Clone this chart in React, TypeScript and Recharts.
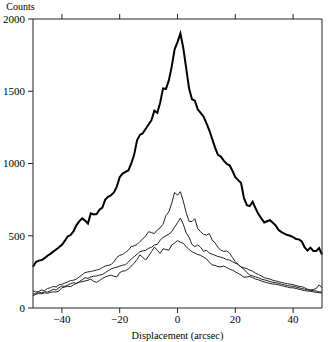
import React from 'react';
import { LineChart, Line, XAxis, YAxis } from 'recharts';

// displacement bins (arcsec)
const displacement = [
  -50, -49, -48, -47, -46, -45, -44, -43, -42, -41, -40, -39, -38, -37, -36, -35, -34,
  -33, -32, -31, -30, -29, -28, -27, -26, -25, -24, -23, -22, -21, -20, -19, -18, -17,
  -16, -15, -14, -13, -12, -11, -10, -9, -8, -7, -6, -5, -4, -3, -2, -1, 0,
  1, 2, 3, 4, 5, 6, 7, 8, 9, 10, 11, 12, 13, 14, 15, 16, 17, 18, 19, 20,
  21, 22, 23, 24, 25, 26, 27, 28, 29, 30, 31, 32, 33, 34, 35, 36, 37, 38, 39, 40,
  41, 42, 43, 44, 45, 46, 47, 48, 49, 50,
];

const totalCounts = [
  286, 318, 328, 332, 345, 362, 375, 390, 405, 420, 437, 465, 495, 505, 530, 572, 600,
  620, 605, 585, 655, 648, 650, 680, 695, 750, 770, 780, 800, 840, 905, 930, 942, 952,
  1000, 1060, 1160, 1198, 1210, 1240, 1270, 1300, 1365, 1350, 1420, 1520, 1515, 1575, 1670, 1790, 1840,
  1900, 1800, 1660, 1520, 1445, 1435, 1375, 1350, 1325, 1280, 1230, 1170, 1110, 1060, 1048, 1020, 998, 988, 950, 905,
  885, 865, 760, 712, 705, 735, 690, 650, 620, 592, 600, 608, 590, 570, 540, 525, 515, 505, 500, 490,
  478, 475, 460, 420, 398, 418, 395, 395, 415, 370,
];

const profileA = [
  120, 110, 115, 125, 120, 135, 140, 150, 145, 160, 165, 172, 180, 190, 192, 200, 215,
  230, 245, 250, 252, 258, 262, 268, 280, 290, 295, 300, 320, 350, 365, 370, 385, 400,
  425, 430, 440, 460, 478, 500, 528, 522, 515, 540, 555, 580, 640, 665, 725, 800, 780,
  805, 740, 660, 600, 598, 618, 550, 528, 510, 505, 515, 470, 450, 420, 400, 392, 395, 380, 350, 320,
  300, 285, 278, 272, 262, 255, 240, 232, 222, 210, 205, 200, 192, 187, 182, 176, 172, 168, 165, 162,
  155, 150, 148, 140, 130, 125, 128, 135, 160, 140,
];

const profileB = [
  95, 100, 110, 105, 112, 110, 118, 130, 125, 140, 152, 150, 158, 168, 175, 170, 182,
  195, 210, 205, 215, 220, 222, 228, 232, 245, 258, 270, 278, 282, 290, 296, 300, 318,
  340, 355, 372, 390, 395, 400, 413, 420, 436, 440, 470, 488, 500, 510, 528, 560, 590,
  622, 580, 520, 490, 440, 425, 436, 420, 392, 400, 380, 372, 365, 356, 352, 345, 335, 332, 320, 310,
  302, 282, 268, 245, 228, 222, 215, 210, 200, 195, 190, 183, 178, 175, 170, 165, 160, 155, 152, 150,
  145, 140, 135, 130, 125, 122, 120, 118, 112, 110,
];

const profileC = [
  85, 95, 100, 98, 105, 102, 108, 112, 110, 118, 140, 145, 150, 148, 160, 170, 178,
  182, 187, 192, 200, 185, 178, 190, 205, 215, 222, 228, 220, 215, 245, 255, 258, 270,
  290, 310, 335, 368, 350, 332, 360, 390, 422, 400, 378, 410, 405, 400, 436, 450, 466,
  455, 448, 425, 405, 390, 380, 370, 365, 352, 340, 318, 298, 295, 286, 285, 290, 280, 270, 262, 250,
  240, 228, 212, 215, 218, 210, 200, 195, 187, 180, 175, 170, 166, 164, 160, 155, 150, 145, 140, 140,
  135, 130, 125, 120, 118, 115, 112, 108, 106, 104,
];

const xTicks = [-40, -20, 0, 20, 40];
const yTicks = [0, 500, 1000, 1500, 2000];

const data = displacement.map((d, i) => ({
  d,
  total: totalCounts[i],
  a: profileA[i],
  b: profileB[i],
  c: profileC[i],
}));

const font = 'Liberation Serif, DejaVu Serif, serif';
const textStyle = { fontSize: 11, fontFamily: font, fill: '#000' };
const axisColor = '#222';

const minus = (v: number) => (v < 0 ? '\u2212' + Math.abs(v) : String(v));

export default function App() {
  return (
    <div style={{ position: 'absolute', left: 0, top: 0, width: 332, height: 342, background: '#fff', fontFamily: font }}>
      <LineChart width={332} height={342} data={data} margin={{ top: 0, right: 0, bottom: 0, left: 0 }} style={{ fontFamily: font }}>
        <XAxis
          xAxisId="bottom"
          dataKey="d"
          type="number"
          domain={[-50, 50]}
          ticks={xTicks}
          tickFormatter={minus}
          height={34}
          stroke={axisColor}
          tick={{ ...textStyle, style: textStyle }}
          tickSize={5}
          tickMargin={2}
          label={{ value: 'Displacement (arcsec)', position: 'insideBottom', offset: 3, style: { ...textStyle, fontSize: 10.3 } }}
        />
        <XAxis
          xAxisId="top"
          orientation="top"
          dataKey="d"
          type="number"
          domain={[-50, 50]}
          ticks={xTicks}
          tickFormatter={() => ''}
          height={19}
          stroke={axisColor}
          tickSize={5}
        />
        <YAxis
          yAxisId="left"
          domain={[0, 2000]}
          ticks={yTicks}
          width={33}
          stroke={axisColor}
          tick={{ ...textStyle, style: textStyle }}
          tickSize={5}
          tickMargin={3}
          label={{ value: 'Counts', position: 'top', offset: 9, dx: 4, style: { ...textStyle, fontSize: 10 } }}
        />
        <YAxis
          yAxisId="right"
          orientation="right"
          domain={[0, 2000]}
          ticks={yTicks}
          tickFormatter={() => ''}
          width={10}
          stroke={axisColor}
          tickSize={5}
        />
        <Line xAxisId="bottom" yAxisId="left" dataKey="a" stroke="#222" strokeWidth={1} dot={false} isAnimationActive={false} />
        <Line xAxisId="bottom" yAxisId="left" dataKey="b" stroke="#222" strokeWidth={1} dot={false} isAnimationActive={false} />
        <Line xAxisId="bottom" yAxisId="left" dataKey="c" stroke="#222" strokeWidth={1} dot={false} isAnimationActive={false} />
        <Line xAxisId="bottom" yAxisId="left" dataKey="total" stroke="#000" strokeWidth={2} dot={false} isAnimationActive={false} />
      </LineChart>
    </div>
  );
}
